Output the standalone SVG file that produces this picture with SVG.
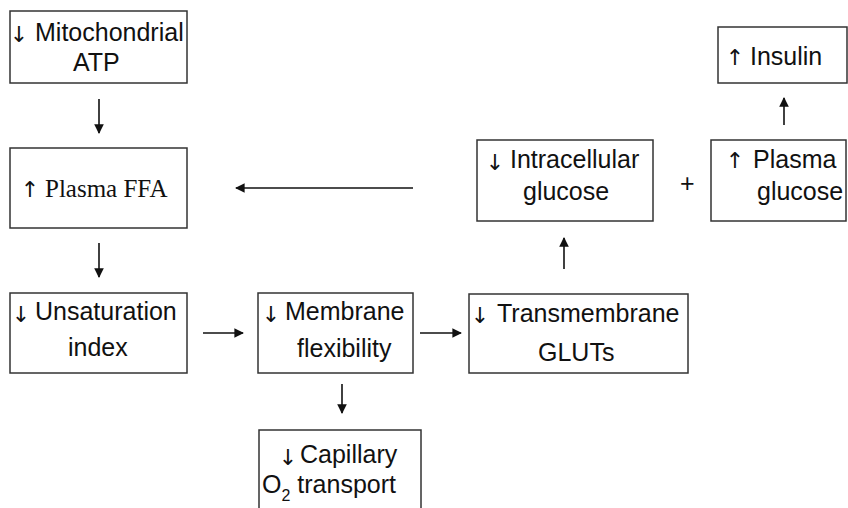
<svg xmlns="http://www.w3.org/2000/svg" width="848" height="508" viewBox="0 0 848 508">
<defs>
<style>
.box{fill:#fff;stroke:#333;stroke-width:1.5}
.t{font-family:"Liberation Sans",Arial,sans-serif;font-size:25px;fill:#111}
.s{font-family:"Liberation Serif","Times New Roman",serif;font-size:25px;fill:#111}
.a{font-family:"DejaVu Sans",sans-serif;font-size:22px;fill:#111;text-anchor:middle}
.c{stroke:#111;stroke-width:1.6;fill:none;marker-end:url(#ah)}
</style>
<marker id="ah" viewBox="0 0 10 10" refX="9" refY="5" markerWidth="6" markerHeight="6" markerUnits="strokeWidth" orient="auto">
<path d="M0,0 L10,5 L0,10 z" fill="#111"/>
</marker>
</defs>
<rect width="848" height="508" fill="#fff"/>
<g id="n1"><rect class="box" x="10" y="11" width="177" height="72"/><text class="a" x="19" y="42">↓</text><text class="t" x="35" y="41">Mitochondrial</text><text class="t" x="73" y="71">ATP</text></g>
<g id="n2"><rect class="box" x="10" y="148" width="177" height="80"/><text class="a" x="30" y="197">↑</text><text class="s" x="45" y="197">Plasma FFA</text></g>
<g id="n3"><rect class="box" x="10" y="293" width="177" height="80"/><text class="a" x="21" y="322">↓</text><text class="t" x="35" y="320">Unsaturation</text><text class="t" x="68" y="356">index</text></g>
<g id="n4"><rect class="box" x="258" y="293" width="155" height="80"/><text class="a" x="271" y="322">↓</text><text class="t" x="285" y="320">Membrane</text><text class="t" x="297" y="357">flexibility</text></g>
<g id="n5"><rect class="box" x="469" y="294" width="219" height="79"/><text class="a" x="480" y="323">↓</text><text class="t" x="497" y="322">Transmembrane</text><text class="t" x="538" y="361">GLUTs</text></g>
<g id="n6"><rect class="box" x="259" y="430" width="162" height="90"/><text class="a" x="288" y="465">↓</text><text class="t" x="300" y="463">Capillary</text><text class="t" x="262" y="493">O<tspan font-size="16" dy="8">2</tspan><tspan dy="-8"> transport</tspan></text></g>
<g id="n7"><rect class="box" x="477" y="140" width="176" height="81"/><text class="a" x="495" y="170">↓</text><text class="t" x="510" y="168">Intracellular</text><text class="t" x="523" y="200">glucose</text></g>
<g id="n8"><rect class="box" x="711" y="140" width="135" height="81"/><text class="a" x="735" y="168">↑</text><text class="t" x="753" y="168">Plasma</text><text class="t" x="757" y="200">glucose</text></g>
<g id="n9"><rect class="box" x="718" y="27" width="129" height="56"/><text class="a" x="735" y="65">↑</text><text class="t" x="750" y="65">Insulin</text></g>
<text class="t" x="680" y="192">+</text>
<g id="connectors">
<line class="c" x1="99" y1="99" x2="99" y2="133"/>
<line class="c" x1="99" y1="243" x2="99" y2="277"/>
<line class="c" x1="413" y1="188" x2="236" y2="188"/>
<line class="c" x1="203" y1="333" x2="243" y2="333"/>
<line class="c" x1="420" y1="333" x2="461" y2="333"/>
<line class="c" x1="342" y1="384" x2="342" y2="413"/>
<line class="c" x1="564" y1="269" x2="564" y2="238"/>
<line class="c" x1="784" y1="125" x2="784" y2="98"/>
</g>
</svg>
